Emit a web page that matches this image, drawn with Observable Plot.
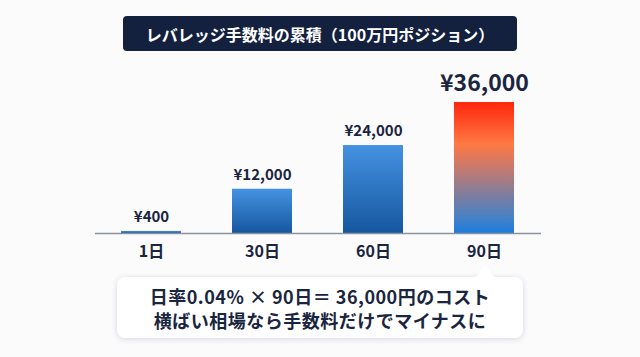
<!DOCTYPE html>
<html><head><meta charset="utf-8">
<script src="https://cdn.jsdelivr.net/npm/d3@7"></script>
<script src="https://cdn.jsdelivr.net/npm/@observablehq/plot@0.6"></script>
<style>
html,body{margin:0;padding:0;background:#fbfbfc;}
#wrap{position:relative;width:640px;height:357px;overflow:hidden;font-family:"Noto Sans CJK JP","Noto Sans",sans-serif;}
#title{position:absolute;left:123px;top:16px;width:394px;height:35px;background:#13213f;border-radius:4px;color:#fff;font-weight:700;font-size:16px;display:flex;align-items:center;justify-content:center;}
#note{position:absolute;left:117px;top:277px;width:406px;height:61px;background:#fff;border-radius:8px;box-shadow:0 1px 6px rgba(20,30,60,0.16);color:#1a2540;font-weight:700;font-size:18px;letter-spacing:0.5px;line-height:24px;display:flex;flex-direction:column;align-items:center;justify-content:center;}
#note:before{content:"";position:absolute;left:359px;top:-12px;border-left:9px solid transparent;border-right:9px solid transparent;border-bottom:12px solid #fff;}
svg{position:absolute;left:0;top:0;}
</style></head>
<body><div id="wrap"></div>
<script>
const titleText = "レバレッジ手数料の累積（100万円ポジション）";
const days = ["1日", "30日", "60日", "90日"];
const fees = [400, 12000, 24000, 36000];
const valueLabels = ["¥400", "¥12,000", "¥24,000", "¥36,000"];
const noteLines = ["日率0.04% × 90日＝ 36,000円のコスト", "横ばい相場なら手数料だけでマイナスに"];

const data = days.map((d, i) => ({day: d, fee: fees[i], label: valueLabels[i]}));
const normal = data.slice(0, 3);
const last = data.slice(3);

const chart = Plot.plot({
  width: 640, height: 357,
  marginLeft: 68, marginRight: 73, marginTop: 102, marginBottom: 124,
  style: {background: "transparent", fontFamily: "'Noto Sans CJK JP', sans-serif"},
  x: {domain: days, padding: 0.463, label: null},
  y: {domain: [0, 36000], axis: null},
  marks: [
    Plot.barY(normal, {x: "day", y: "fee", fill: "url(#blueGrad)", insetTop: -0.6}),
    Plot.barY(last, {x: "day", y: "fee", fill: "url(#hotGrad)"}),
    Plot.ruleY([0], {stroke: "#8a929e", strokeWidth: 1.5, insetLeft: 27, insetRight: 26}),
    Plot.text(normal, {x: "day", y: "fee", text: "label", dy: -15, fontSize: 15, fontWeight: 700, fill: "#1a2540"}),
    Plot.text(last, {x: "day", y: "fee", text: "label", dy: -19, fontSize: 23, fontWeight: 700, fill: "#1a2540"}),
    Plot.axisX({tickSize: 0, tickPadding: 12, fontSize: 16, fontWeight: 700, fill: "#1a2540", label: null})
  ]
});

const svg = d3.select(chart);
const defs = svg.insert("defs", ":first-child");
const bg = defs.append("linearGradient").attr("id", "blueGrad").attr("x1", 0).attr("y1", 0).attr("x2", 0).attr("y2", 1);
bg.append("stop").attr("offset", "0%").attr("stop-color", "#4592e2");
bg.append("stop").attr("offset", "100%").attr("stop-color", "#15579f");
const hg = defs.append("linearGradient").attr("id", "hotGrad").attr("x1", 0).attr("y1", 0).attr("x2", 0).attr("y2", 1);
[["0%", "#ff260c"], ["32%", "#ff7844"], ["52%", "#c27a72"], ["72%", "#7a7da0"], ["87%", "#4c82c2"], ["100%", "#1a7ce0"]]
  .forEach(([o, c]) => hg.append("stop").attr("offset", o).attr("stop-color", c));

const wrap = document.getElementById("wrap");
wrap.appendChild(chart);
const t = document.createElement("div"); t.id = "title"; t.textContent = titleText; wrap.appendChild(t);
const n = document.createElement("div"); n.id = "note";
noteLines.forEach(l => { const s = document.createElement("div"); s.textContent = l; n.appendChild(s); });
wrap.appendChild(n);
</script></body></html>
